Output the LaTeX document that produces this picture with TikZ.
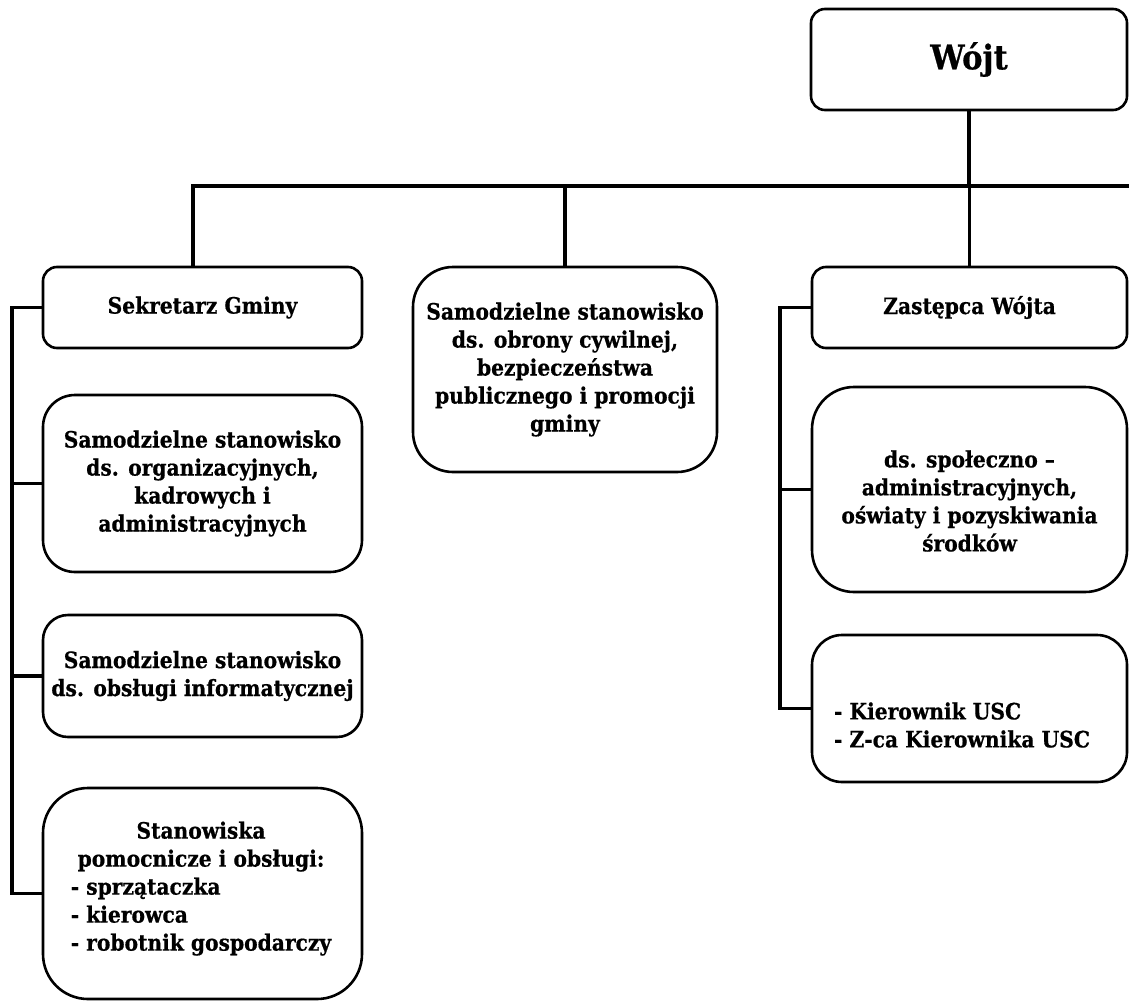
\documentclass[tikz,border=0pt]{standalone}
\usepackage{fontspec}
\setmainfont{DejaVu Serif}[FakeStretch=0.9,BoldFeatures={FakeBold=0.6,FakeStretch=0.9}]
\begin{document}
\begin{tikzpicture}[x=1pt,y=-1pt,
  box/.style={draw=black,line width=2.6pt,rectangle,inner sep=0pt,align=center},
  txt/.style={font=\bfseries\fontsize{22.5}{28}\selectfont,align=center,inner sep=0pt},
  conn/.style={line width=3.2pt,line cap=rect}]
\useasboundingbox (0,0) rectangle (1129,1001);
% boxes: centre = ((l+r)/2,(t+b)/2), size = (r-l) x (b-t)
\node[box,rounded corners=14pt,minimum width=316pt,minimum height=101pt,font=\bfseries\fontsize{34}{40}\selectfont] (wojt) at (969,59.5) {Wójt};
\node[box,txt,draw,rounded corners=14pt,minimum width=319pt,minimum height=81pt] (sek) at (202.5,307.5) {Sekretarz Gminy};
\node[box,txt,draw,rounded corners=40pt,minimum width=304pt,minimum height=205pt] (mid) at (565,369.5) {Samodzielne stanowisko\\ds. obrony cywilnej,\\bezpieczeństwa\\publicznego i promocji\\gminy};
\node[box,txt,draw,rounded corners=14pt,minimum width=315pt,minimum height=81pt] (zast) at (969.5,307.5) {Zastępca Wójta};
\node[box,txt,draw,rounded corners=32pt,minimum width=319pt,minimum height=177pt] (b2) at (202.5,483.5) {Samodzielne stanowisko\\ds. organizacyjnych,\\kadrowych i\\administracyjnych};
\node[box,txt,draw,rounded corners=25pt,minimum width=319pt,minimum height=122pt] (b3) at (202.5,676) {Samodzielne stanowisko\\ds. obsługi informatycznej};
\node[box,rounded corners=45pt,minimum width=319pt,minimum height=211pt] (b4) at (202.5,893.5) {};
\node[txt] (b4t) at (201,889) {\begin{tabular}{@{}l@{}}\multicolumn{1}{@{}c@{}}{Stanowiska}\\\multicolumn{1}{@{}c@{}}{pomocnicze i obsługi:}\\- sprzątaczka\\- kierowca\\- robotnik gospodarczy\end{tabular}};
\node[box,rounded corners=42pt,minimum width=315pt,minimum height=205pt] (spol) at (969.5,489.5) {};
\node[txt] (spolt) at (969.5,501) {ds. społeczno –\\administracyjnych,\\oświaty i pozyskiwania\\środków};
\node[box,rounded corners=30pt,minimum width=315pt,minimum height=147pt] (usc) at (969.5,708.5) {};
\node[txt,align=left] (usct) at (962,725) {- Kierownik USC\\- Z-ca Kierownika USC};
% connectors
\coordinate (busL) at (193,186);
\coordinate (busR) at (1129,186);
\draw[conn] (busL) -- (busR);
\draw[conn] (wojt.south) -- (wojt.south |- busL);
\draw[conn] (busL) -- (busL |- sek.north);
\draw[conn] (mid.north) -- (mid.north |- busL);
\draw[conn] (zast.north) -- (zast.north |- busL);
\coordinate (lb) at (12,0);
\draw[conn] (sek.west) -- (lb |- sek.west) -- (lb |- b4.west) -- (b4.west);
\draw[conn] (lb |- b2.west) -- (b2.west);
\draw[conn] (lb |- b3.west) -- (b3.west);
\coordinate (rb) at (780,0);
\draw[conn] (zast.west) -- (rb |- zast.west) -- (rb |- usc.west) -- (usc.west);
\draw[conn] (rb |- spol.west) -- (spol.west);
\end{tikzpicture}
\end{document}
